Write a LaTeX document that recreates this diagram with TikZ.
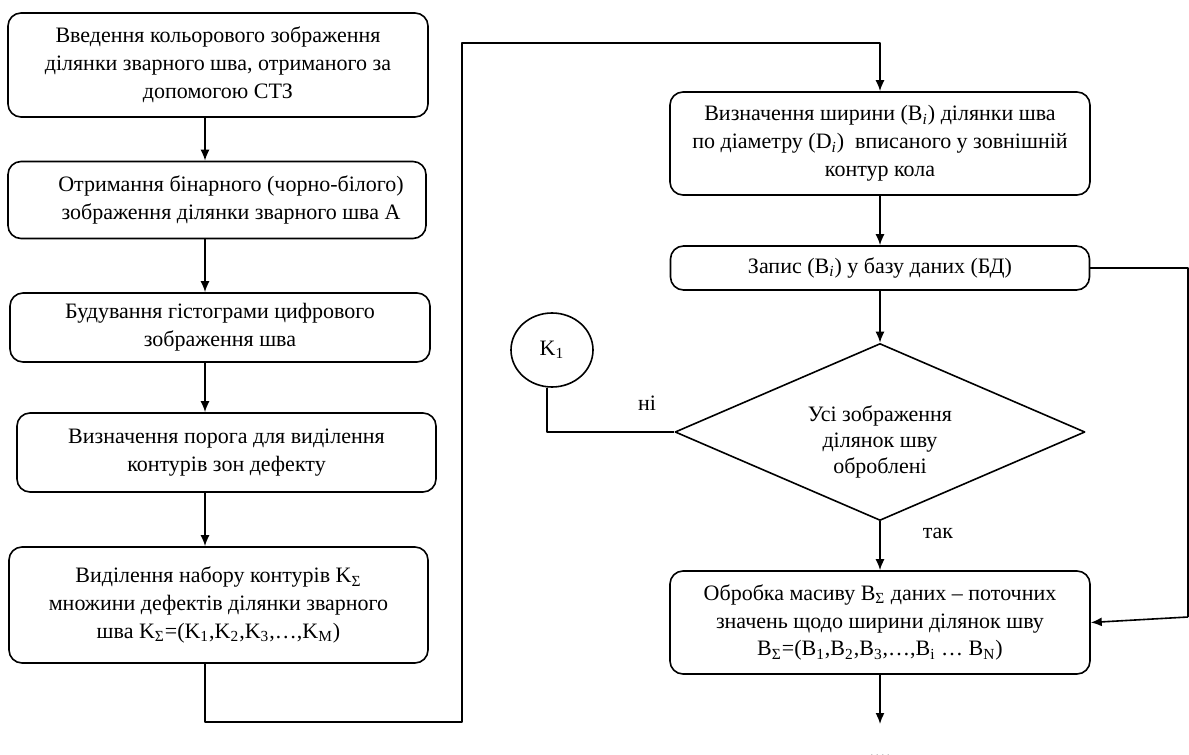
\documentclass[tikz,border=0pt]{standalone}
\usepackage{fontspec}
\setmainfont{Liberation Serif}
\usetikzlibrary{shapes.geometric,arrows,arrows.meta,calc,positioning}

\begin{document}
\begin{tikzpicture}[x=0.5pt,y=-0.5pt,line join=round,line width=0.8pt,>={Latex[length=5.5pt,width=4.5pt]},
blok/.style={draw,rectangle,rounded corners=6.5pt,align=center,inner sep=0pt,font=\fontsize{11}{13.9}\selectfont},
rishennia/.style={draw,diamond,aspect=2.3,inner sep=0pt,minimum width=205pt,minimum height=88.5pt},
konektor/.style={draw,ellipse,minimum width=41pt,minimum height=37pt,inner sep=0pt,font=\fontsize{11}{12}\selectfont},
napys/.style={align=center,font=\fontsize{11}{13}\selectfont}]
\useasboundingbox (0,0) rectangle (1189,755);
% left column
\node[blok,minimum width=210pt,minimum height=52pt] (b1) at (218,65) {Введення кольорового зображення\\ділянки зварного шва, отриманого за\\допомогою СТЗ};
\node[blok,minimum width=209pt,minimum height=38.5pt] (b2) at (217,200) {\hspace*{14pt}Отримання бінарного (чорно-білого)\\\hspace*{14pt}зображення ділянки зварного шва А};
\node[blok,minimum width=210pt,minimum height=34.5pt] (b3) at (220,327.5) {Будування гістограми цифрового\\зображення шва};
\node[blok,minimum width=209.5pt,minimum height=39.5pt] (b4) at (226.5,452.5) {Визначення порога для виділення\\контурів зон дефекту};
\node[blok,minimum width=209.5pt,minimum height=58pt] (b5) at (218.5,605) {Виділення набору контурів K\textsubscript{Σ}\\множини дефектів ділянки зварного\\шва K\textsubscript{Σ}=(K\textsubscript{1},K\textsubscript{2},K\textsubscript{3},…,K\textsubscript{M})};
% right column
\node[blok,minimum width=210pt,minimum height=51.5pt] (b6) at (880,143.5) {Визначення ширини (B\textsubscript{\textit{i}}) ділянки шва\\по діаметру (D\textsubscript{\textit{i}})~~вписаного у зовнішній\\контур кола};
\node[blok,minimum width=209.5pt,minimum height=22pt] (b7) at (880,268) {Запис (B\textsubscript{\textit{i}}) у базу даних (БД)};
\node[rishennia] (d1) at (880,432) {};
\node[napys] (d1t) at (880,442) {Усі зображення\\ділянок шву\\оброблені};
\node[konektor] (k1) at (552,350) {K\textsubscript{1}};
\node[blok,minimum width=210pt,minimum height=51.5pt] (b8) at (880,622.5) {Обробка масиву B\textsubscript{Σ} даних – поточних\\значень щодо ширини ділянок шву\\B\textsubscript{Σ}=(B\textsubscript{1},B\textsubscript{2},B\textsubscript{3},…,B\textsubscript{i} … B\textsubscript{N})};
\node[napys,anchor=base] (dal) at (880,757) {....};
\node[napys] (ni) at (647,403) {ні};
\node[napys] (tak) at (938,533) {так};
% connectors
\coordinate (p1) at (205,722);
\coordinate (p2) at (462,43);
\coordinate (p3) at (1188,617);
\foreach \a/\b in {b1/b2,b2/b3,b3/b4,b4/b5}{\draw[->] (\a.south -| p1) -- (\b.north -| p1);}
\draw[->] (b5.south -| p1) -- (p1) -| (p2) -| (b6.north);
\draw[->] (b6) -- (b7);
\draw[->] (b7) -- (d1.north);
\draw[->] (d1.south) -- (b8);
\draw[->] (b8.south) -- (b8.south |- 0,724);
\draw (b7.east) -| (p3);
\draw[->] (p3) -- (b8.east);
\draw (k1.south -| 547,0) |- (d1.west);
\end{tikzpicture}
\end{document}
